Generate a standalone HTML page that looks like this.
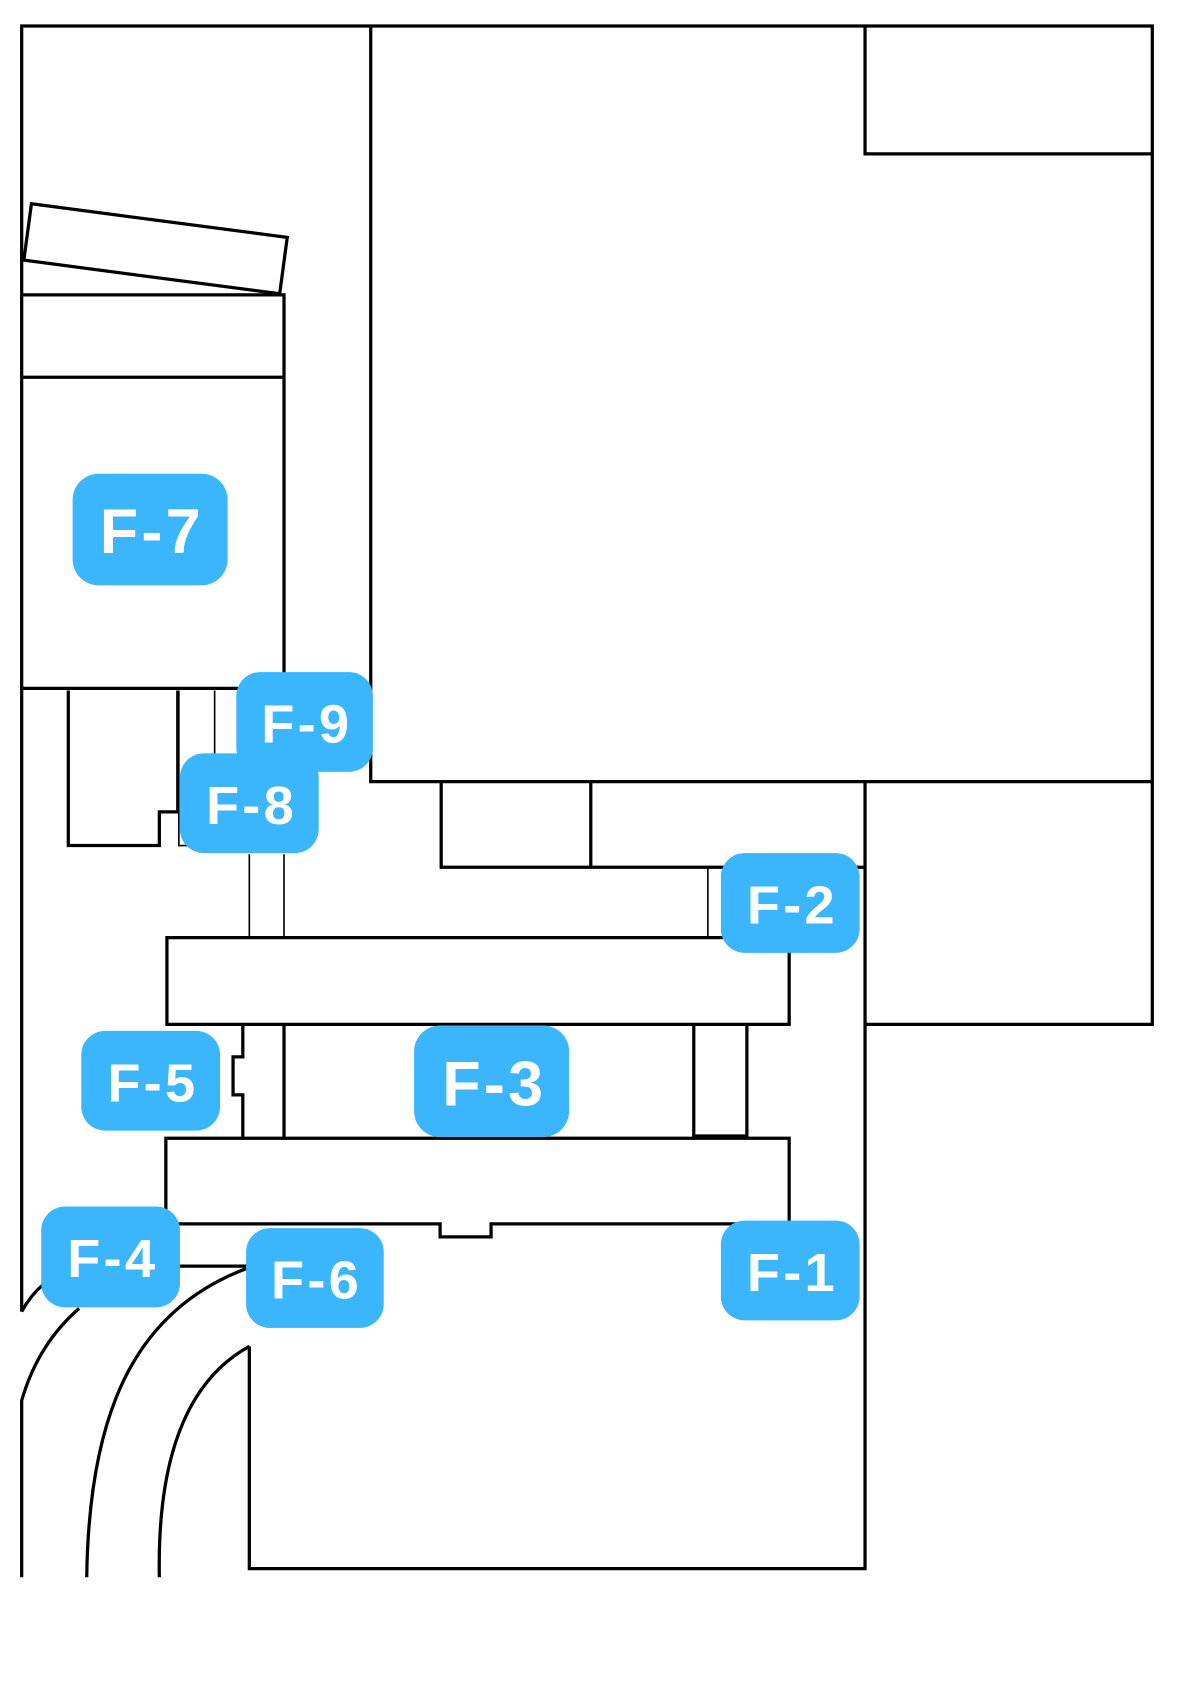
<!DOCTYPE html>
<html><head><meta charset="utf-8"><style>
html,body{margin:0;padding:0;background:#fff;width:1200px;height:1700px;overflow:hidden}
svg{display:block}
text{font-family:"Liberation Sans","Noto Sans CJK JP",sans-serif;fill:#fff;font-weight:bold}
</style></head><body>
<svg width="1200" height="1700" viewBox="0 0 1107 1568.25" preserveAspectRatio="none" xmlns="http://www.w3.org/2000/svg">
<g fill="none" stroke="#000" stroke-width="3" stroke-linejoin="miter">
<path d="M20,1210 L20,24 L1063,24 L1063,945 L798,945"/>
<path d="M342,24 L342,721 L1063,721"/>
<path d="M798,24 L798,142 L1063,142"/>
<polygon points="29,188 265,219 258,271 22,240"/>
<path d="M20,272 L262,272 L262,635 L20,635"/>
<path d="M20,348 L262,348"/>
<path d="M63,637 L63,780 L147,780 L147,749 L165,749"/>
<path d="M164,637 L164,749"/>
<path d="M407,721 L407,800 L798,800"/>
<path d="M545,721 L545,800"/>
<path d="M798,721 L798,1447 L230,1447 L230,1242"/>
<path d="M154,865 L728,865 L728,945 L154,945 Z"/>
<path d="M224,945 L224,975 L215,975 L215,1010 L224,1010 L224,1050"/>
<path d="M262,945 L262,1050"/>
<path d="M640,945 L640,1048 L689,1048 L689,945"/>
<path d="M224,1050 L153,1050 L153,1129 L406,1129 L406,1141 L453,1141 L453,1129 L728,1129 L728,1050 L224,1050"/>
<path d="M165,1168 L228,1168"/>
<path d="M20,1210 Q28,1195 40,1185"/>
<path d="M73,1207 Q35,1240 20,1292 L20,1455"/>
<path d="M228,1170 C120,1210 82,1310 80,1455"/>
<path d="M230,1242 C170,1275 145,1350 147,1455"/>
</g>
<g fill="none" stroke="#000" stroke-width="1.5">
<path d="M165,637 L165,780 L175,780"/>
<path d="M198,637 L198,700"/>
<path d="M230,788 L230,865"/>
<path d="M262,788 L262,865"/>
<path d="M653,800 L653,865"/>
</g>
<g fill="#3bb5fb">
<rect x="67" y="437" width="143" height="103" rx="24"/>
<rect x="218" y="620" width="126" height="92" rx="22"/>
<rect x="166" y="695" width="128" height="92" rx="22"/>
<rect x="665" y="787" width="128" height="92" rx="22"/>
<rect x="75" y="951" width="128" height="92" rx="22"/>
<rect x="382" y="946" width="143" height="103" rx="24"/>
<rect x="38" y="1113" width="128" height="93" rx="22"/>
<rect x="227" y="1133" width="127" height="92" rx="22"/>
<rect x="665" y="1126" width="128" height="92" rx="22"/>
</g>
<g font-size="50" text-anchor="middle" letter-spacing="3">
<text x="140" y="510" font-size="58">F-7</text>
<text x="283" y="685">F-9</text>
<text x="232" y="760">F-8</text>
<text x="731" y="852">F-2</text>
<text x="141" y="1016">F-5</text>
<text x="456" y="1020" font-size="58">F-3</text>
<text x="104" y="1178">F-4</text>
<text x="292" y="1198">F-6</text>
<text x="731" y="1191">F-1</text>
</g>
</svg>
</body></html>
